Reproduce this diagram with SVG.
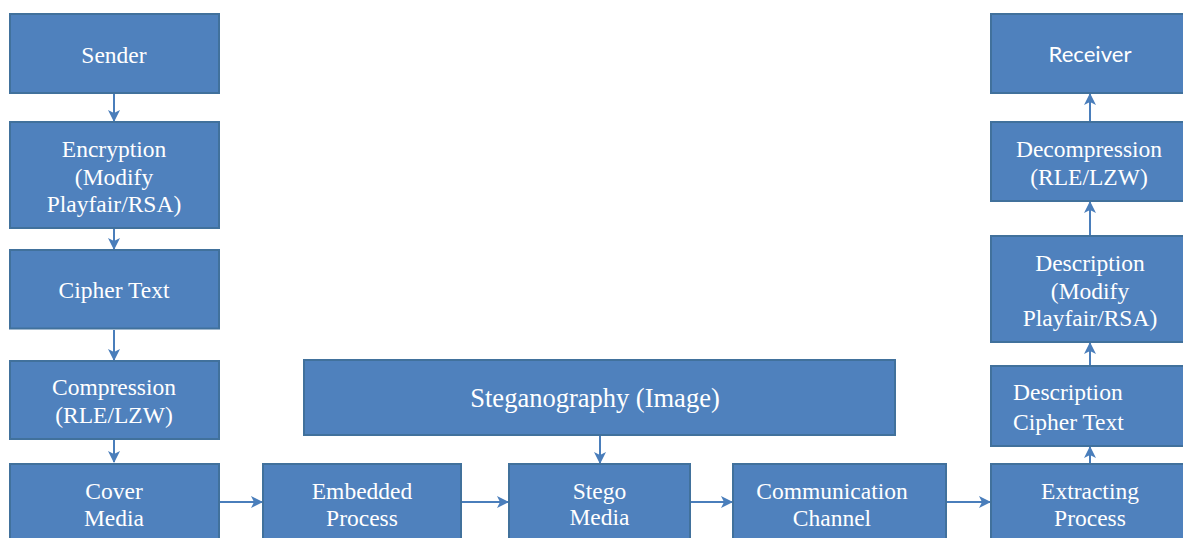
<svg xmlns="http://www.w3.org/2000/svg" width="1183" height="538" viewBox="0 0 1183 538">
<defs>
<style>
.box{fill:#4F81BD;stroke:#41719C;stroke-width:2}
.t{font-family:"Liberation Serif","Times New Roman",serif;font-size:23.5px;fill:#FFFFFF;text-anchor:middle}
.big{font-size:26.5px}
.l{text-anchor:start}
.s{font-family:Lato,"Open Sans","Liberation Sans",sans-serif;font-size:22px;fill:#FFFFFF;text-anchor:middle}
.c{stroke:#4A7EBB;stroke-width:2;fill:none;marker-end:url(#ah)}
</style>
<marker id="ah" viewBox="0 0 12 12" refX="11" refY="6" markerWidth="12" markerHeight="12" markerUnits="userSpaceOnUse" orient="auto">
<path d="M0,0 L12,6 L0,12 L3,6 Z" fill="#4A7EBB"/>
</marker>
</defs>
<g id="connectors">
<line class="c" x1="114" y1="94" x2="114" y2="121"/>
<line class="c" x1="114" y1="229" x2="114" y2="249"/>
<line class="c" x1="114" y1="330" x2="114" y2="360"/>
<line class="c" x1="114" y1="440" x2="114" y2="462"/>
<line class="c" x1="220" y1="502" x2="262" y2="502"/>
<line class="c" x1="462" y1="502" x2="508" y2="502"/>
<line class="c" x1="691" y1="502" x2="732" y2="502"/>
<line class="c" x1="947" y1="502" x2="990" y2="502"/>
<line class="c" x1="600" y1="436" x2="600" y2="463"/>
<line class="c" x1="1090" y1="463" x2="1090" y2="447"/>
<line class="c" x1="1090" y1="365" x2="1090" y2="343"/>
<line class="c" x1="1090" y1="235" x2="1090" y2="202"/>
<line class="c" x1="1090" y1="121" x2="1090" y2="94"/>
</g>
<g id="sender"><rect class="box" x="10" y="14" width="209" height="79"/><text class="t" x="114" y="62.5">Sender</text></g>
<g id="encryption"><rect class="box" x="10" y="122" width="209" height="106"/><text class="t" x="114" y="157">Encryption</text><text class="t" x="114" y="184.5">(Modify</text><text class="t" x="114" y="212">Playfair/RSA)</text></g>
<g id="cipher-text"><rect class="box" x="10" y="250" width="209" height="78.5"/><text class="t" x="114" y="298.3">Cipher Text</text></g>
<g id="compression"><rect class="box" x="10" y="361" width="209" height="78"/><text class="t" x="114" y="395">Compression</text><text class="t" x="114" y="422.5">(RLE/LZW)</text></g>
<g id="cover-media"><rect class="box" x="10" y="464" width="209" height="80"/><text class="t" x="114" y="499.3">Cover</text><text class="t" x="114" y="525.5">Media</text></g>
<g id="embedded-process"><rect class="box" x="263" y="464" width="198" height="80"/><text class="t" x="362" y="499.3">Embedded</text><text class="t" x="362" y="526">Process</text></g>
<g id="steganography"><rect class="box" x="304" y="360" width="591" height="75"/><text class="t big" x="595" y="407.3">Steganography (Image)</text></g>
<g id="stego-media"><rect class="box" x="509" y="464" width="181" height="80"/><text class="t" x="599.5" y="498.5">Stego</text><text class="t" x="599.5" y="525">Media</text></g>
<g id="communication-channel"><rect class="box" x="733" y="464" width="213" height="80"/><text class="t" x="832" y="499.3">Communication</text><text class="t" x="832" y="526">Channel</text></g>
<g id="extracting-process"><rect class="box" x="991" y="464" width="200" height="80"/><text class="t" x="1090" y="499.3">Extracting</text><text class="t" x="1090" y="526">Process</text></g>
<g id="description-cipher-text"><rect class="box" x="991" y="366" width="200" height="80"/><text class="t l" x="1013" y="400">Description</text><text class="t l" x="1013" y="430">Cipher Text</text></g>
<g id="description-modify"><rect class="box" x="991" y="236" width="200" height="106"/><text class="t" x="1090" y="271">Description</text><text class="t" x="1090" y="298.5">(Modify</text><text class="t" x="1090" y="326">Playfair/RSA)</text></g>
<g id="decompression"><rect class="box" x="991" y="122" width="200" height="79"/><text class="t" x="1089" y="157">Decompression</text><text class="t" x="1089" y="185">(RLE/LZW)</text></g>
<g id="receiver"><rect class="box" x="991" y="14" width="200" height="79"/><text class="s" x="1090" y="62" textLength="83" lengthAdjust="spacingAndGlyphs">Receiver</text></g>
</svg>
